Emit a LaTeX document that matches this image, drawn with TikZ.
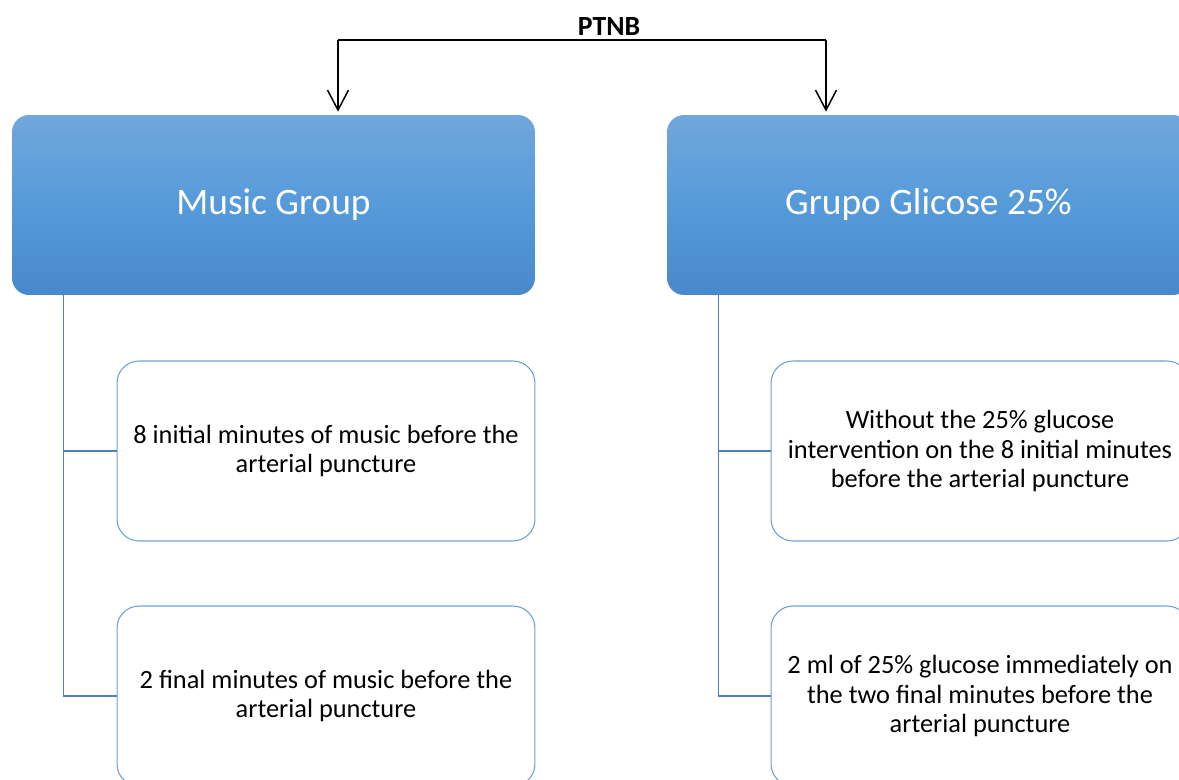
\documentclass[tikz,border=0pt]{standalone}
\usepackage{fontspec}
\setmainfont{Carlito}
\usetikzlibrary{arrows.meta}

\definecolor{grptop}{RGB}{113,167,220}
\definecolor{grpmid}{RGB}{86,154,218}
\definecolor{grpbot}{RGB}{72,137,203}
\definecolor{boxline}{RGB}{110,160,215}
\definecolor{branchline}{RGB}{79,129,189}

\begin{document}
\begin{tikzpicture}[x=0.02cm,y=-0.02cm,
        >={Straight Barb[length=0.4cm,width=0.42cm]},
        group/.style={rounded corners=0.34cm,minimum width=10.46cm,minimum height=3.6cm,
            inner sep=0pt,top color=grptop,bottom color=grpbot,middle color=grpmid,
            text=white,font=\fontsize{21.3}{25}\selectfont},
        detail/.style={rounded corners=0.44cm,minimum width=8.36cm,minimum height=3.6cm,
            inner sep=0pt,draw=boxline,line width=0.6pt,fill=white,align=center,
            font=\fontsize{15}{16.7}\selectfont},
        branch/.style={draw=branchline,line width=0.6pt}]
    \useasboundingbox (0,0) rectangle (1179,780);
    \clip (0,0) rectangle (1179,780);

    % the two groups
    \node[group] (music) at (273.5,205) {Music Group};
    \node[group] (glic) at (928.5,205) {Grupo Glicose 25\%};

    % what each group gets
    \node[detail] (mus1) at (326,451) {8 initial minutes of music before the\\arterial puncture};
    \node[detail] (mus2) at (326,696) {2 final minutes of music before the\\arterial puncture};
    \node[detail] (glic1) at (980,451) {Without the 25\% glucose\\intervention on the 8 initial minutes\\before the arterial puncture};
    \node[detail] (glic2) at (980,696) {2 ml of 25\% glucose immediately on\\the two final minutes before the\\arterial puncture};

    \draw[branch] ([xshift=1.04cm]music.south west) |- (mus1.west);
    \draw[branch] ([xshift=1.04cm]music.south west) |- (mus2.west);
    \draw[branch] ([xshift=1.04cm]glic.south west) |- (glic1.west);
    \draw[branch] ([xshift=1.04cm]glic.south west) |- (glic2.west);

    % top split
    \node[font=\fontsize{15.8}{18}\selectfont\bfseries] (ptnb) at (609,27) {PTNB};
    \coordinate (bl) at (338,40);
    \coordinate (br) at (826,40);
    \draw[line width=0.85pt] (bl) -- (br);
    \draw[->,line width=0.85pt] (bl) -- ([yshift=0.06cm]bl |- music.north);
    \draw[->,line width=0.85pt] (br) -- ([yshift=0.06cm]br |- glic.north);
\end{tikzpicture}
\end{document}
